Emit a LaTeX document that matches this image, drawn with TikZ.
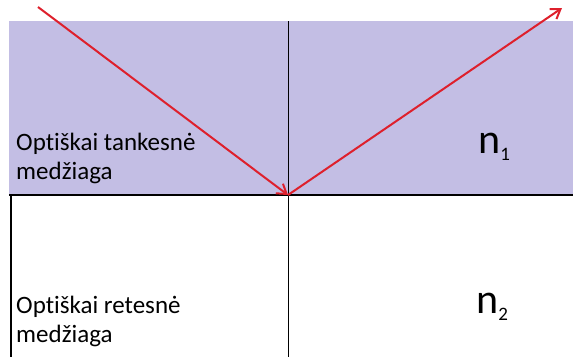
\documentclass[tikz,border=0pt]{standalone}
\usepackage{fontspec}
\setmainfont{Carlito}[Ligatures=NoCommon]
\usepackage{xcolor}
\usetikzlibrary{arrows.meta}

\definecolor{denseviolet}{RGB}{195,190,228}
\definecolor{rayred}{RGB}{222,32,44}

\begin{document}
\begin{tikzpicture}[
    x=1pt,y=-1pt,
    label/.style={anchor=base west,inner sep=0pt,font=\fontsize{25}{28.5}\selectfont,align=left},
    index/.style={anchor=base west,inner sep=0pt,font=\fontsize{42}{42}\selectfont},
    boundary/.style={line width=2.4pt,black},
    normal/.style={line width=1pt,black},
    ray/.style={-{Straight Barb[length=9pt,width=12pt,line width=2pt]},line width=2pt,rayred},
  ]
    \useasboundingbox (0,0) rectangle (573,357);
    % optically denser medium
    \fill[denseviolet] (9,21) rectangle (573,195);
    \draw[boundary] (9,195) -- (573,195);
    \draw[line width=2pt] (11,195) -- (11,357);
    \draw[normal] (288,21) -- (288,357);

    \node[label] (dense) at (16,179) {Optiškai tankesnė\\medžiaga};
    \node[label] (rare) at (16,342) {Optiškai retesnė\\medžiaga};
    \node[index] (n1) at (478,153) {n\raisebox{-7pt}{\fontsize{19}{19}\selectfont 1}};
    \node[index] (n2) at (476,313) {n\raisebox{-7pt}{\fontsize{19}{19}\selectfont 2}};

    % rays
    \coordinate (src) at (38,7);
    \coordinate (hit) at (288,195);
    \coordinate (out) at (562,8);
    \draw[ray] (src) -- (hit);
    \draw[ray] (hit) -- (out);
  \end{tikzpicture}
\end{document}
